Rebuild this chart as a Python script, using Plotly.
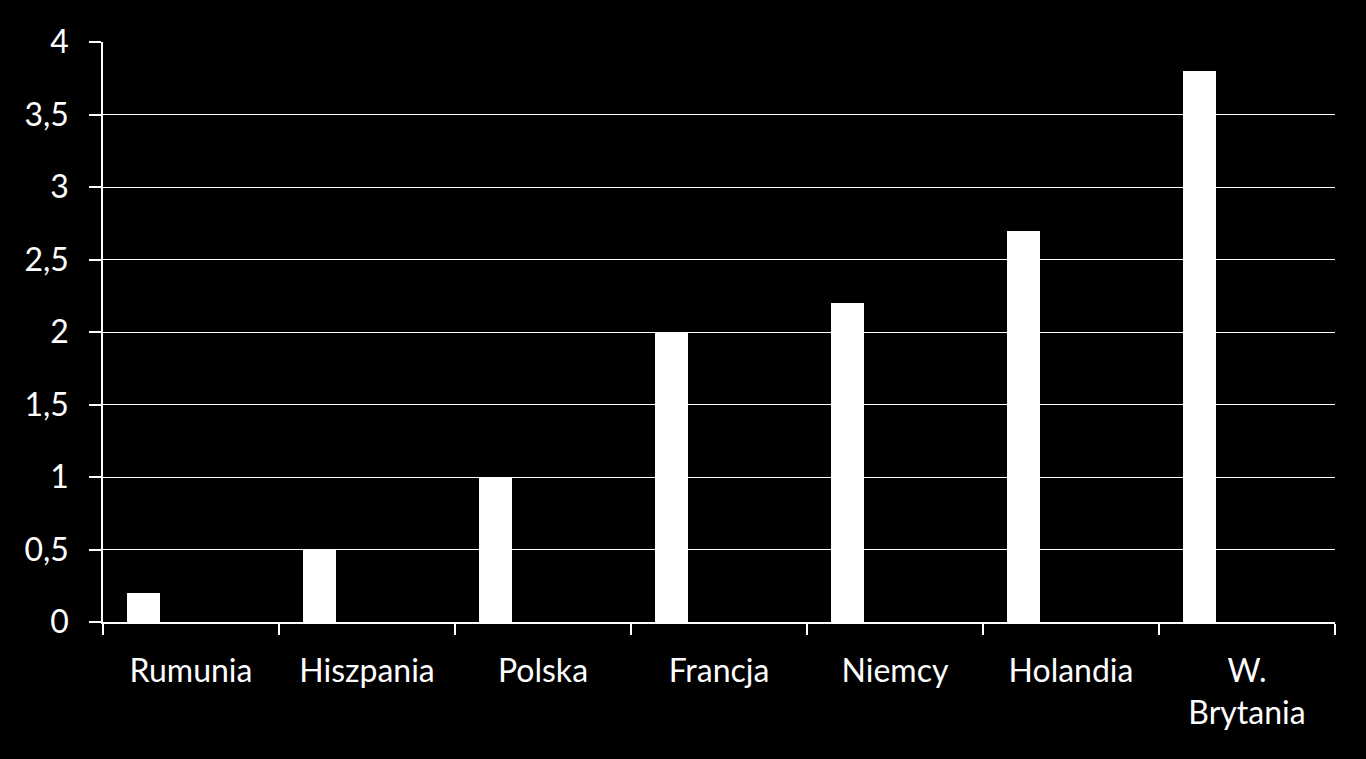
import plotly.graph_objects as go

categories = ["Rumunia", "Hiszpania", "Polska", "Francja", "Niemcy", "Holandia", "W.<br>Brytania"]
values = [0.2, 0.5, 1.0, 2.0, 2.2, 2.7, 3.8]
y_ticks = [0, 0.5, 1, 1.5, 2, 2.5, 3, 3.5, 4]

fig = go.Figure()
fig.add_trace(go.Bar(
    x=categories, y=values,
    width=0.1875, offset=-0.365,
    marker=dict(color="white", line=dict(width=0)),
))

font_family = "Lato, 'Open Sans', sans-serif"
fig.update_layout(
    width=1366, height=759,
    paper_bgcolor="black", plot_bgcolor="black",
    margin=dict(l=103, r=31, t=42, b=137),
    separators=", ",
    showlegend=False,
    font=dict(family=font_family, size=32, color="white"),
    bargap=0,
)
fig.update_xaxes(
    type="category",
    showline=True, linecolor="white", linewidth=1.5,
    ticks="outside", tickson="boundaries", ticklen=11, tickcolor="white", tickwidth=1.5,
    showgrid=False,
    tickfont=dict(size=32, color="white"),
    range=[-0.5, 6.5],
    ticklabelstandoff=20,
)
fig.update_yaxes(
    range=[0, 4], tickvals=y_ticks, tickformat=",",
    showline=True, linecolor="white", linewidth=1.5,
    ticks="outside", ticklen=12, tickcolor="white", tickwidth=1.5,
    showgrid=True, gridcolor="white", gridwidth=1.2,
    zeroline=False,
    tickfont=dict(size=32, color="white"),
    ticklabelstandoff=14,
)

fig.write_html("out.html")
